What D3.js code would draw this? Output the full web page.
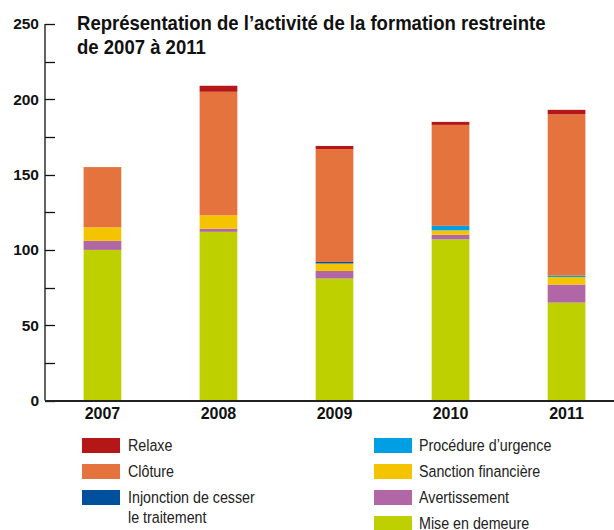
<!DOCTYPE html>
<html>
<head>
<meta charset="utf-8">
<script src="https://cdn.jsdelivr.net/npm/d3@7"></script>
<style>
  html, body { margin: 0; padding: 0; background: #fff; }
  svg { display: block; }
</style>
</head>
<body>
<svg id="chart" width="614" height="530"></svg>
<script>
// Years on the x axis
const years = ["2007", "2008", "2009", "2010", "2011"];

// Stacked series, bottom to top
const miseEnDemeure   = [100, 112, 81, 107, 65];
const avertissement   = [6, 2, 5, 3, 12];
const sanction        = [9, 9, 5, 3, 5];
const procedure       = [0, 0, 0, 3, 1];
const injonction      = [0, 0, 1, 0, 0];
const cloture         = [40, 82, 75, 67, 107];
const relaxe          = [0, 4, 2, 2, 3];

const seriesNames = ["Mise en demeure", "Avertissement", "Sanction financière",
  "Procédure d’urgence", "Injonction de cesser le traitement", "Clôture", "Relaxe"];
const seriesValues = [miseEnDemeure, avertissement, sanction, procedure, injonction, cloture, relaxe];
const seriesColors = ["#bfd000", "#b166a6", "#f5c400", "#009fe3", "#00509d", "#e5733d", "#b51618"];

const yTicks = [0, 25, 50, 75, 100, 125, 150, 175, 200, 225, 250];
const yLabels = [0, 50, 100, 150, 200, 250];

const titleLines = ["Représentation de l’activité de la formation restreinte", "de 2007 à 2011"];

// Legend layout: two columns
const legendLeft = [["Relaxe"], ["Clôture"], ["Injonction de cesser", "le traitement"]];
const legendLeftColors = ["#b51618", "#e5733d", "#00509d"];
const legendRight = [["Procédure d’urgence"], ["Sanction financière"], ["Avertissement"], ["Mise en demeure"]];
const legendRightColors = ["#009fe3", "#f5c400", "#b166a6", "#bfd000"];

const FONT = "Liberation Sans, Arial, sans-serif";
const svg = d3.select("#chart");
const axisX = 45;

const y = d3.scaleLinear().domain([0, 250]).range([400.5, 24]);
const x = d3.scaleBand().domain(years).range([43, 626]).paddingInner(0.675).paddingOuter(0.35);

// Build stacked data
const table = years.map((yr, i) => {
  const row = { year: yr };
  seriesNames.forEach((n, k) => row[n] = seriesValues[k][i]);
  return row;
});
const stack = d3.stack().keys(seriesNames)(table);

svg.append("g").selectAll("g")
  .data(stack).join("g")
  .attr("fill", (d, k) => seriesColors[k])
  .selectAll("rect")
  .data(d => d).join("rect")
  .attr("x", d => x(d.data.year))
  .attr("width", x.bandwidth())
  .attr("y", d => y(d[1]))
  .attr("height", d => Math.max(0, y(d[0]) - y(d[1])));

// Y axis line with ticks pointing right
const yAxis = svg.append("g");
yAxis.append("line")
  .attr("x1", axisX).attr("x2", axisX)
  .attr("y1", y(250)).attr("y2", y(0))
  .attr("stroke", "#111").attr("stroke-width", 1.3);
yAxis.selectAll("line.tick").data(yTicks).join("line")
  .attr("class", "tick")
  .attr("x1", axisX).attr("x2", axisX + 10)
  .attr("y1", d => Math.round(y(d)) + 0.5).attr("y2", d => Math.round(y(d)) + 0.5)
  .attr("stroke", "#111").attr("stroke-width", 1.3);
yAxis.selectAll("text").data(yLabels).join("text")
  .attr("x", 39)
  .attr("y", d => y(d))
  .attr("dy", "0.35em")
  .attr("text-anchor", "end")
  .attr("font-family", FONT)
  .attr("font-weight", "bold")
  .attr("font-size", 15.5)
  .attr("fill", "#111")
  .text(d => d);

// Baseline
svg.append("line")
  .attr("x1", axisX).attr("x2", 614)
  .attr("y1", y(0) + 0.5).attr("y2", y(0) + 0.5)
  .attr("stroke", "#222").attr("stroke-width", 2);

// Year labels
svg.append("g").selectAll("text").data(years).join("text")
  .attr("x", d => x(d) + x.bandwidth() / 2)
  .attr("y", 418.5)
  .attr("text-anchor", "middle")
  .attr("font-family", FONT)
  .attr("font-weight", "bold")
  .attr("font-size", 16)
  .attr("fill", "#111")
  .text(d => d);

// Horizontal squeeze factor so that a sample string reaches the wanted width
function squeezeFactor(sample, targetWidth, attrs) {
  const probe = svg.append("text").attr("font-family", FONT);
  Object.entries(attrs).forEach(([k, v]) => probe.attr(k, v));
  probe.text(sample);
  const k = targetWidth / probe.node().getComputedTextLength();
  probe.remove();
  return k;
}

// Title
const TITLE_SIZE = 20;
const kTitle = squeezeFactor(titleLines[0], 469, { "font-weight": "bold", "font-size": TITLE_SIZE });
svg.append("g").selectAll("text").data(titleLines).join("text")
  .attr("transform", (d, i) => `translate(77,${29.5 + i * 24.5}) scale(${kTitle},1)`)
  .attr("font-family", FONT)
  .attr("font-weight", "bold")
  .attr("font-size", TITLE_SIZE)
  .attr("fill", "#111")
  .text(d => d);

// Legend
const LEGEND_SIZE = 16.5;
const kLegend = squeezeFactor("Injonction de cesser", 127, { "font-size": LEGEND_SIZE });

function legendColumn(items, colors, sx, tx) {
  const g = svg.append("g");
  items.forEach((lines, i) => {
    const top = 438 + i * 26;
    g.append("rect")
      .attr("x", sx).attr("y", top).attr("width", 38).attr("height", 15)
      .attr("fill", colors[i]);
    lines.forEach((t, j) => {
      g.append("text")
        .attr("transform", `translate(${tx},${top + 13 + j * 20}) scale(${kLegend},1)`)
        .attr("font-family", FONT)
        .attr("font-size", LEGEND_SIZE)
        .attr("fill", "#222")
        .text(t);
    });
  });
}
legendColumn(legendLeft, legendLeftColors, 82, 128);
legendColumn(legendRight, legendRightColors, 374, 419);
</script>
</body>
</html>
